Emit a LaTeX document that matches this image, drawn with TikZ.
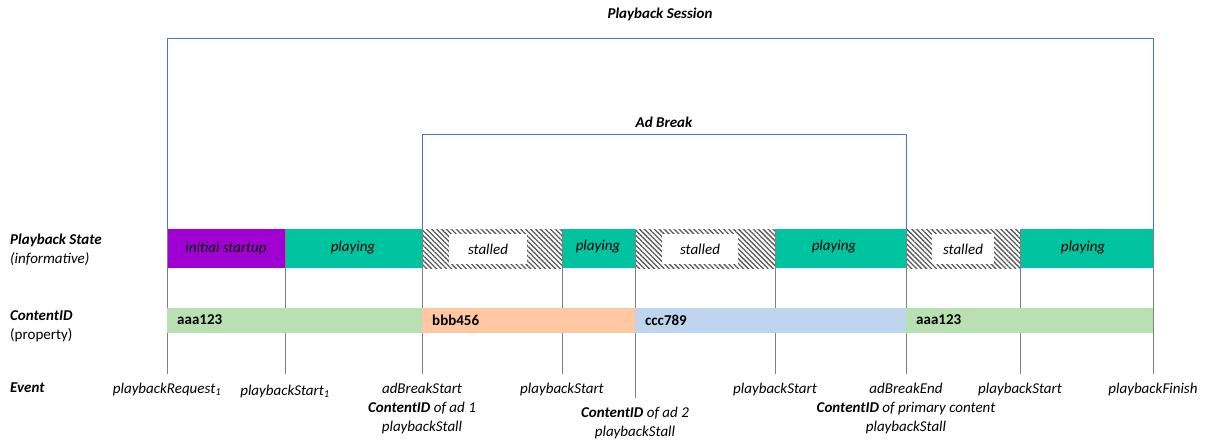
\documentclass[tikz,border=0pt]{standalone}
\usepackage{fontspec}
\setmainfont{Carlito}
\usetikzlibrary{patterns.meta}

\definecolor{startupcol}{RGB}{160,0,210}
\definecolor{playcol}{RGB}{0,196,160}
\definecolor{greencol}{RGB}{185,224,176}
\definecolor{orangecol}{RGB}{255,200,162}
\definecolor{bluecol}{RGB}{190,213,238}
\definecolor{bracketcol}{RGB}{70,115,225}

\tikzset{
  bracket/.style={draw=bracketcol, line width=0.8pt},
  tick/.style={draw=gray, line width=1pt},
  hatch/.style={pattern={Lines[angle=-45,distance=3.5pt,line width=1.3pt]}, pattern color=gray!70!black},
  stalledbox/.style={fill=white, minimum height=30pt, inner sep=0pt, font=\itshape},
  statetext/.style={font=\itshape},
  idtext/.style={font=\bfseries, anchor=west},
  eventtext/.style={font=\itshape, anchor=north, align=center, inner sep=0pt},
  rowlabel/.style={anchor=north west, align=left, inner sep=0pt}
}

\begin{document}
\fontsize{15}{19}\selectfont
\begin{tikzpicture}[x=1pt, y=-1pt]
\useasboundingbox (0,0) rectangle (1207,441);

% event times
\coordinate (t0) at (167,0);
\coordinate (t1) at (285,0);
\coordinate (t2) at (422,0);
\coordinate (t3) at (562,0);
\coordinate (t4) at (635,0);
\coordinate (t5) at (775,0);
\coordinate (t6) at (906,0);
\coordinate (t7) at (1020,0);
\coordinate (t8) at (1153,0);

% brackets
\node[font=\bfseries\itshape] (session) at (660,14) {Playback Session};
\coordinate (sesL) at (167,229);
\coordinate (sesR) at (1153,229);
\draw[bracket] (sesL) -- ++(0,-191) -| (sesR);
\node[font=\bfseries\itshape] (adbreak) at (664,122) {Ad Break};
\coordinate (adL) at (422,229);
\coordinate (adR) at (906,229);
\draw[bracket] (adL) -- ++(0,-95) -| (adR);

% playback state
\node[rowlabel] (statelbl) at (10,234) {\textbf{\textit{Playback State}}\\\textit{(informative)}};
\fill[startupcol] (167,229) rectangle (285,268);
\node[statetext] (st0) at (226,248) {initial startup};
\fill[playcol] (285,229) rectangle (422,268);
\node[statetext] (st1) at (353,248) {playing};
\fill[hatch] (422,229) rectangle (562,268);
\node[stalledbox, minimum width=78pt] (st2) at (488,249) {stalled};
\fill[playcol] (562,229) rectangle (635,268);
\node[statetext] (st3) at (598,247) {playing};
\fill[hatch] (635,229) rectangle (775,268);
\node[stalledbox, minimum width=76pt] (st4) at (700,249) {stalled};
\fill[playcol] (775,229) rectangle (906,268);
\node[statetext] (st5) at (834,247) {playing};
\fill[hatch] (906,229) rectangle (1020,268);
\node[stalledbox, minimum width=62pt] (st6) at (963,249) {stalled};
\fill[playcol] (1020,229) rectangle (1153,268);
\node[statetext] (st7) at (1083,248) {playing};

% event ticks
\draw[tick] (t0 |- 0,229) -- (t0 |- 0,374);
\draw[tick] (t1 |- 0,229) -- (t1 |- 0,374);
\draw[tick] (t2 |- 0,229) -- (t2 |- 0,374);
\draw[tick] (t3 |- 0,229) -- (t3 |- 0,374);
\draw[tick] (t4 |- 0,229) -- (t4 |- 0,398);
\draw[tick] (t5 |- 0,229) -- (t5 |- 0,374);
\draw[tick] (t6 |- 0,229) -- (t6 |- 0,374);
\draw[tick] (t7 |- 0,229) -- (t7 |- 0,374);
\draw[tick] (t8 |- 0,229) -- (t8 |- 0,374);

% content ids
\node[rowlabel] (idlbl) at (10,310) {\textbf{\textit{ContentID}}\\(property)};
\fill[greencol] (167,308) rectangle (422,333);
\node[idtext] (id0) at (172,320) {aaa123};
\fill[orangecol] (422,308) rectangle (635,333);
\node[idtext] (id1) at (427,320) {bbb456};
\fill[bluecol] (635,308) rectangle (906,333);
\node[idtext] (id2) at (640,320) {ccc789};
\fill[greencol] (906,308) rectangle (1153,333);
\node[idtext] (id3) at (911,320) {aaa123};

% events
\node[rowlabel, font=\bfseries\itshape] (evlbl) at (10,383) {Event};
\node[eventtext] (ev0) at (t0 |- 0,383) {playbackRequest\textsubscript{1}};
\node[eventtext] (ev1) at (t1 |- 0,385) {playbackStart\textsubscript{1}};
\node[eventtext] (ev2) at (t2 |- 0,383) {adBreakStart\\\textbf{ContentID} of ad 1\\playbackStall};
\node[eventtext] (ev3) at (t3 |- 0,383) {playbackStart};
\node[eventtext] (ev4) at (t4 |- 0,407) {\textbf{ContentID} of ad 2\\playbackStall};
\node[eventtext] (ev5) at (t5 |- 0,383) {playbackStart};
\node[eventtext] (ev6) at (t6 |- 0,383) {adBreakEnd\\\textbf{ContentID} of primary content\\playbackStall};
\node[eventtext] (ev7) at (t7 |- 0,383) {playbackStart};
\node[eventtext] (ev8) at (t8 |- 0,383) {playbackFinish};
\end{tikzpicture}
\end{document}
